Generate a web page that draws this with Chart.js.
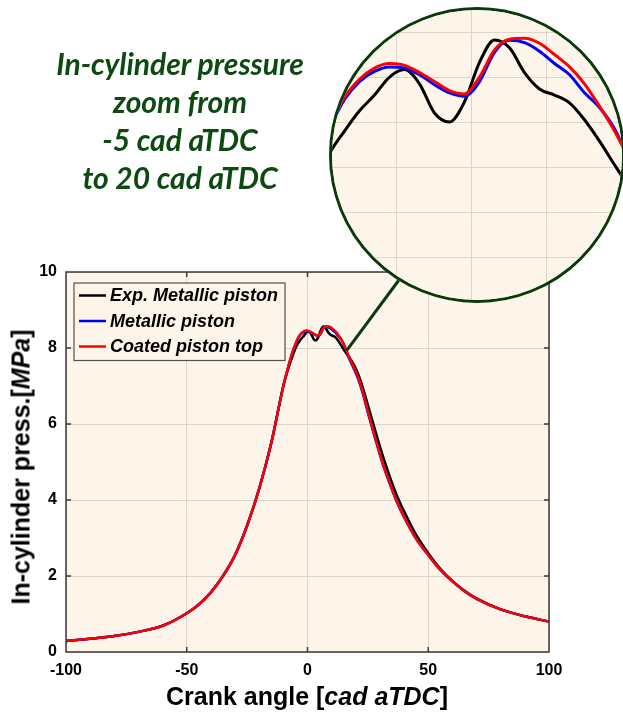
<!DOCTYPE html>
<html>
<head>
<meta charset="utf-8">
<script src="https://cdn.jsdelivr.net/npm/chart.js@4.4.1/dist/chart.umd.min.js"></script>
<style>
  body { margin: 0; background: #fff; }
  #wrap { position: relative; width: 623px; height: 719px; overflow: hidden; }
  #main { position: absolute; left: 0; top: 0; }
  #zoomNote {
    position: absolute; left: 30px; top: 44px; width: 300px;
    text-align: center; font: italic bold 30px Lato; line-height: 38px; color: #0c4a10;
  }
  #lens {
    position: absolute; left: 329px; top: 7px; width: 290px; height: 290px;
    border: 3px solid #0a3a0c; border-radius: 50%; overflow: hidden; background: #fdf5ea;
  }
  #lens canvas { position: absolute; left: 0; top: 0; }
  .axis-title { position: absolute; font: bold 25px "Liberation Sans"; color: #000; white-space: nowrap; line-height: 25px; }
  #xTitle { left: 307px; top: 684px; transform: translateX(-50%); }
  #yTitle { left: 21px; top: 467px; transform: translate(-50%, -50%) rotate(-90deg); }
</style>
</head>
<body>
<div id="wrap">
  <canvas id="main" width="623" height="719"></canvas>
  <div id="zoomNote">In-cylinder pressure<br>zoom from<br>-5 cad aTDC<br>to 20 cad aTDC</div>
  <div id="lens"><canvas id="zoom" width="290" height="290"></canvas></div>
  <div class="axis-title" id="xTitle">Crank angle [<i>cad aTDC</i>]</div>
  <div class="axis-title" id="yTitle">In-cylinder press.[<i>MPa</i>]</div>
</div>
<script>
'use strict';

// ******* DATA *******
let crankAngle = [-100, -90, -80, -70, -60, -50, -45, -40, -35, -30, -25, -20, -15, -10, -8, -6, -4.5,
  -3.5, -2.5, -1.5, -0.5, 0.5, 1.5, 2.5, 3.5, 4.5, 5.5, 6.5, 7.5, 8.5, 9.5, 10.5, 11.5, 12.5, 13.5, 14.5, 15.5,
  17, 19, 21, 23, 25, 28, 31, 34, 37, 40, 45, 50, 55, 60, 65, 70, 80, 90, 100];

let expMetallic = [0.29, 0.35, 0.42, 0.53, 0.69, 1.02, 1.25, 1.57, 2.0, 2.55, 3.33, 4.3, 5.5, 7.0, 7.45, 7.82, 8.06,
  8.16, 8.25, 8.32, 8.40, 8.433, 8.37, 8.24, 8.20, 8.29, 8.465, 8.565, 8.53, 8.42, 8.347, 8.32, 8.285, 8.21, 8.115, 8.01, 7.91,
  7.78, 7.58, 7.31, 6.94, 6.5, 5.84, 5.2, 4.63, 4.12, 3.7, 3.08, 2.6, 2.19, 1.87, 1.61, 1.41, 1.12, 0.94, 0.8];

let simMetallic = [0.29, 0.35, 0.42, 0.53, 0.69, 1.02, 1.25, 1.57, 2.0, 2.55, 3.33, 4.3, 5.5, 7.0, 7.5, 7.93, 8.17,
  8.30, 8.38, 8.425, 8.445, 8.44, 8.41, 8.366, 8.33, 8.315, 8.38, 8.51, 8.563, 8.553, 8.515, 8.46, 8.41, 8.33, 8.265, 8.17, 8.02,
  7.76, 7.48, 7.18, 6.78, 6.3, 5.62, 4.98, 4.44, 3.95, 3.55, 2.98, 2.55, 2.16, 1.86, 1.6, 1.4, 1.12, 0.94, 0.8];

let simCoated = [0.29, 0.35, 0.42, 0.53, 0.69, 1.02, 1.25, 1.57, 2.0, 2.55, 3.33, 4.3, 5.5, 7.0, 7.5, 7.93, 8.18,
  8.31, 8.39, 8.44, 8.46, 8.452, 8.42, 8.38, 8.34, 8.325, 8.40, 8.52, 8.568, 8.572, 8.55, 8.50, 8.445, 8.37, 8.27, 8.16, 8.03,
  7.8, 7.52, 7.22, 6.82, 6.33, 5.65, 5.0, 4.45, 3.96, 3.55, 2.98, 2.55, 2.16, 1.86, 1.6, 1.4, 1.12, 0.94, 0.8];

let seriesNames = ['Exp. Metallic piston', 'Metallic piston', 'Coated piston top'];
let seriesColors = ['#000000', '#0000ff', '#ff0000'];
let xTicks = [-100, -50, 0, 50, 100];
let yTicks = [0, 2, 4, 6, 8, 10];

// ***** HELPERS *****
const CREAM = '#fdf5ea';
const GRID = '#ddd5ca';

function toPoints(values) {
  return crankAngle.map((a, i) => ({ x: a, y: values[i] }));
}

// later series go on top (coated last in the list, drawn uppermost)
function buildDatasets(width) {
  return [expMetallic, simMetallic, simCoated].map((vals, i) => ({
    label: seriesNames[i],
    data: toPoints(vals),
    borderColor: seriesColors[i],
    borderWidth: width,
    pointRadius: 0,
    cubicInterpolationMode: 'monotone',
    fill: false,
    order: 2 - i
  }));
}

// cream fill behind the plot
const plotBg = {
  id: 'plotBg',
  beforeDraw(chart) {
    const { ctx, chartArea: a } = chart;
    ctx.save();
    ctx.fillStyle = CREAM;
    ctx.fillRect(a.left, a.top, a.right - a.left, a.bottom - a.top);
    ctx.restore();
  }
};

// box round the plot with inward tick marks on all four sides
const boxTicks = {
  id: 'boxTicks',
  afterDatasetsDraw(chart) {
    const { ctx, chartArea: a, scales: { x, y } } = chart;
    const len = 5;
    ctx.save();
    ctx.strokeStyle = '#3a3a3a';
    ctx.lineWidth = 1.5;
    ctx.strokeRect(a.left, a.top, a.right - a.left, a.bottom - a.top);
    ctx.beginPath();
    xTicks.slice(1, -1).forEach(v => {
      const px = x.getPixelForValue(v);
      ctx.moveTo(px, a.bottom); ctx.lineTo(px, a.bottom - len);
      ctx.moveTo(px, a.top); ctx.lineTo(px, a.top + len);
    });
    yTicks.slice(1, -1).forEach(v => {
      const py = y.getPixelForValue(v);
      ctx.moveTo(a.left, py); ctx.lineTo(a.left + len, py);
      ctx.moveTo(a.right, py); ctx.lineTo(a.right - len, py);
    });
    ctx.stroke();
    ctx.restore();
  }
};

// legend box in the upper left of the plot
const boxLegend = {
  id: 'boxLegend',
  afterDatasetsDraw(chart) {
    const { ctx, chartArea: a } = chart;
    const left = a.left + 8, top = a.top + 11, rowH = 25.5;
    ctx.save();
    ctx.font = 'italic bold 18px "Liberation Sans"';
    const textW = Math.max(...seriesNames.map(n => ctx.measureText(n).width));
    const w = 36 + textW + 7, h = rowH * seriesNames.length + 1;
    ctx.fillStyle = CREAM;
    ctx.fillRect(left, top, w, h);
    ctx.strokeStyle = '#505050';
    ctx.lineWidth = 1.2;
    ctx.strokeRect(left, top, w, h);
    ctx.textBaseline = 'middle';
    seriesNames.forEach((name, i) => {
      const cy = top + 12.5 + i * rowH;
      ctx.strokeStyle = seriesColors[i];
      ctx.lineWidth = 2.5;
      ctx.beginPath();
      ctx.moveTo(left + 5, cy); ctx.lineTo(left + 32, cy);
      ctx.stroke();
      ctx.fillStyle = '#000';
      ctx.fillText(name, left + 36, cy + 1);
    });
    ctx.restore();
  }
};

// green leader from the peak region up to the magnifier ring
const leader = {
  id: 'leader',
  afterDraw(chart) {
    const { ctx, scales: { x, y } } = chart;
    const lens = document.getElementById('lens');
    const r = lens.offsetWidth / 2;
    const cx = lens.offsetLeft + r, cy = lens.offsetTop + r;
    const ang = 122 * Math.PI / 180;
    ctx.save();
    ctx.strokeStyle = '#0a3a0c';
    ctx.lineWidth = 3;
    ctx.beginPath();
    ctx.moveTo(x.getPixelForValue(16.2), y.getPixelForValue(7.93));
    ctx.lineTo(cx + r * Math.cos(ang), cy + r * Math.sin(ang));
    ctx.stroke();
    ctx.restore();
  }
};

// ***** MAIN CHART *****
new Chart(document.getElementById('main'), {
  type: 'line',
  data: { datasets: buildDatasets(2.5) },
  options: {
    responsive: false,
    animation: false,
    layout: { padding: { top: 272, right: 74, left: 0, bottom: 0 } },
    plugins: { legend: { display: false }, tooltip: { enabled: false } },
    scales: {
      x: {
        type: 'linear', min: -100, max: 100,
        afterFit(scale) { scale.height = 67; },
        afterBuildTicks(scale) { scale.ticks = xTicks.map(v => ({ value: v })); },
        grid: { color: GRID, drawTicks: false },
        border: { display: false },
        ticks: { padding: 9, color: '#000', font: { family: 'Liberation Sans', weight: 'bold', size: 16 } }
      },
      y: {
        type: 'linear', min: 0, max: 10,
        afterFit(scale) { scale.width = 66; },
        afterBuildTicks(scale) { scale.ticks = yTicks.map(v => ({ value: v })); },
        grid: { color: GRID, drawTicks: false },
        border: { display: false },
        ticks: { padding: 9, color: '#000', font: { family: 'Liberation Sans', weight: 'bold', size: 16 } }
      }
    }
  },
  plugins: [plotBg, boxTicks, boxLegend, leader]
});

// ***** MAGNIFIED VIEW *****
new Chart(document.getElementById('zoom'), {
  type: 'line',
  data: { datasets: buildDatasets(3) },
  options: {
    responsive: false,
    animation: false,
    layout: { padding: 0 },
    plugins: { legend: { display: false }, tooltip: { enabled: false } },
    scales: {
      x: {
        type: 'linear', min: -4.333, max: 15,
        grid: { color: GRID, drawTicks: false },
        border: { display: false },
        ticks: { display: false, stepSize: 5, includeBounds: false }
      },
      y: {
        type: 'linear', min: 7.409, max: 8.698,
        grid: { color: GRID, drawTicks: false },
        border: { display: false },
        ticks: { display: false, stepSize: 0.2, includeBounds: false }
      }
    }
  },
  plugins: [plotBg]
});
</script>
</body>
</html>
